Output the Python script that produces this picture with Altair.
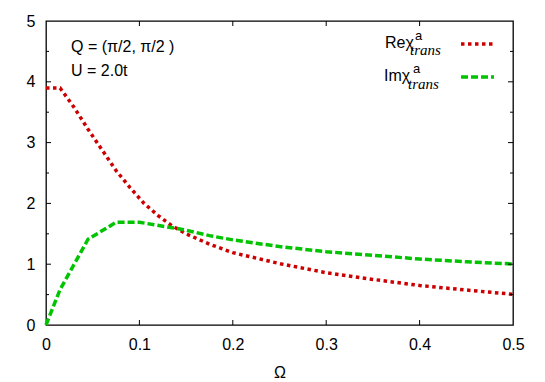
import altair as alt
import pandas as pd

# --- data ---
re_x = [0, 0.015, 0.03, 0.045, 0.06, 0.075, 0.09, 0.105, 0.12, 0.135, 0.15, 0.175, 0.2, 0.25, 0.3, 0.35, 0.4, 0.45, 0.5]
re_y = [3.9, 3.9, 3.58, 3.22, 2.88, 2.54, 2.26, 2.0, 1.8, 1.63, 1.5, 1.33, 1.19, 1.01, 0.86, 0.75, 0.65, 0.575, 0.505]
im_x = [0, 0.015, 0.045, 0.075, 0.1, 0.135, 0.15, 0.175, 0.2, 0.25, 0.3, 0.35, 0.4, 0.45, 0.5]
im_y = [0, 0.58, 1.41, 1.69, 1.69, 1.6, 1.56, 1.47, 1.40, 1.29, 1.206, 1.146, 1.085, 1.04, 1.003]

x_ticks = [0, 0.1, 0.2, 0.3, 0.4, 0.5]
y_ticks = [0, 1, 2, 3, 4, 5]
x_major_inner = [0.1, 0.2, 0.3, 0.4]
y_major_inner = [1, 2, 3, 4]
y_minor = [0.5, 1.5, 2.5, 3.5, 4.5]

W, H = 467, 304
RED = "#cc0000"
GREEN = "#00c400"
FONT = "Liberation Sans"

xs = alt.Scale(domain=[0, 0.5], nice=False)
ys = alt.Scale(domain=[0, 5], nice=False)

re_df = pd.DataFrame({"x": re_x, "y": re_y})
im_df = pd.DataFrame({"x": im_x, "y": im_y})

axis_x = alt.Axis(values=x_ticks, ticks=False, domain=False, grid=False, labelPadding=11,
                  labelFontSize=16, labelFont=FONT, labelColor="#000", format="~g",
                  title="Ω", titleFontSize=16, titleFont=FONT, titleFontWeight="normal", titleColor="#000",
                  titlePadding=12, labelFlush=False)
axis_y = alt.Axis(values=y_ticks, ticks=False, domain=False, grid=False, labelPadding=11,
                  labelFontSize=16, labelFont=FONT, labelColor="#000", title=None, labelFlush=False)

X = lambda f: alt.X(f, scale=xs, axis=axis_x)
Y = lambda f: alt.Y(f, scale=ys, axis=axis_y)

re_line = alt.Chart(re_df).mark_line(color=RED, strokeWidth=3.5, strokeDash=[3.5, 3.5]).encode(
    x=X("x:Q"), y=Y("y:Q"))
im_line = alt.Chart(im_df).mark_line(color=GREEN, strokeWidth=3.5, strokeDash=[7, 3]).encode(
    x=X("x:Q"), y=Y("y:Q"))

tick_style = dict(color="#000", strokeWidth=1)
xt = pd.DataFrame({"v": x_major_inner})
ymaj = pd.DataFrame({"v": y_major_inner})
ymin = pd.DataFrame({"v": y_minor})

tick_layers = [
    alt.Chart(xt).mark_rule(**tick_style).encode(x=X("v:Q"), y=alt.value(H), y2=alt.value(H - 5)),
    alt.Chart(xt).mark_rule(**tick_style).encode(x=X("v:Q"), y=alt.value(0), y2=alt.value(5)),
    alt.Chart(ymaj).mark_rule(**tick_style).encode(y=Y("v:Q"), x=alt.value(0), x2=alt.value(5)),
    alt.Chart(ymaj).mark_rule(**tick_style).encode(y=Y("v:Q"), x=alt.value(W), x2=alt.value(W - 5)),
    alt.Chart(ymin).mark_rule(**tick_style).encode(y=Y("v:Q"), x=alt.value(0), x2=alt.value(3)),
    alt.Chart(ymin).mark_rule(**tick_style).encode(y=Y("v:Q"), x=alt.value(W), x2=alt.value(W - 3)),
]

def txt(s, x, y, size=16, font=FONT, style="normal"):
    return alt.Chart(pd.DataFrame({"t": [s]})).mark_text(
        align="left", baseline="alphabetic", fontSize=size, font=font, fontStyle=style, color="#000"
    ).encode(x=alt.value(x), y=alt.value(y), text="t:N")

annotations = [
    txt("Q = (π/2, π/2 )", 25, 31),
    txt("U = 2.0t", 25, 55),
    txt("Reχ", 339, 27),
    txt("a", 369, 19, size=13),
    txt("trans", 364, 34, size=15, font="Liberation Serif", style="italic"),
    txt("Imχ", 338, 60),
    txt("a", 367, 52, size=13),
    txt("trans", 362, 68, size=15, font="Liberation Serif", style="italic"),
]

legend_lines = [
    alt.Chart(pd.DataFrame({"k": [0]})).mark_rule(color=RED, strokeWidth=3.5, strokeDash=[3.5, 3.5]).encode(
        x=alt.value(415), x2=alt.value(448), y=alt.value(23)),
    alt.Chart(pd.DataFrame({"k": [0]})).mark_rule(color=GREEN, strokeWidth=3.5, strokeDash=[7, 3]).encode(
        x=alt.value(415), x2=alt.value(448), y=alt.value(56)),
]

chart = alt.layer(re_line, im_line, *tick_layers, *annotations, *legend_lines).properties(
    width=W, height=H,
    background="white",
    autosize=alt.AutoSizeParams(type="none"),
    padding={"left": 38, "top": 13, "right": 12, "bottom": 56},
).configure_view(stroke="#000", strokeWidth=1.3)

chart.save("out.html", embed_options={"renderer": "svg", "actions": False})
